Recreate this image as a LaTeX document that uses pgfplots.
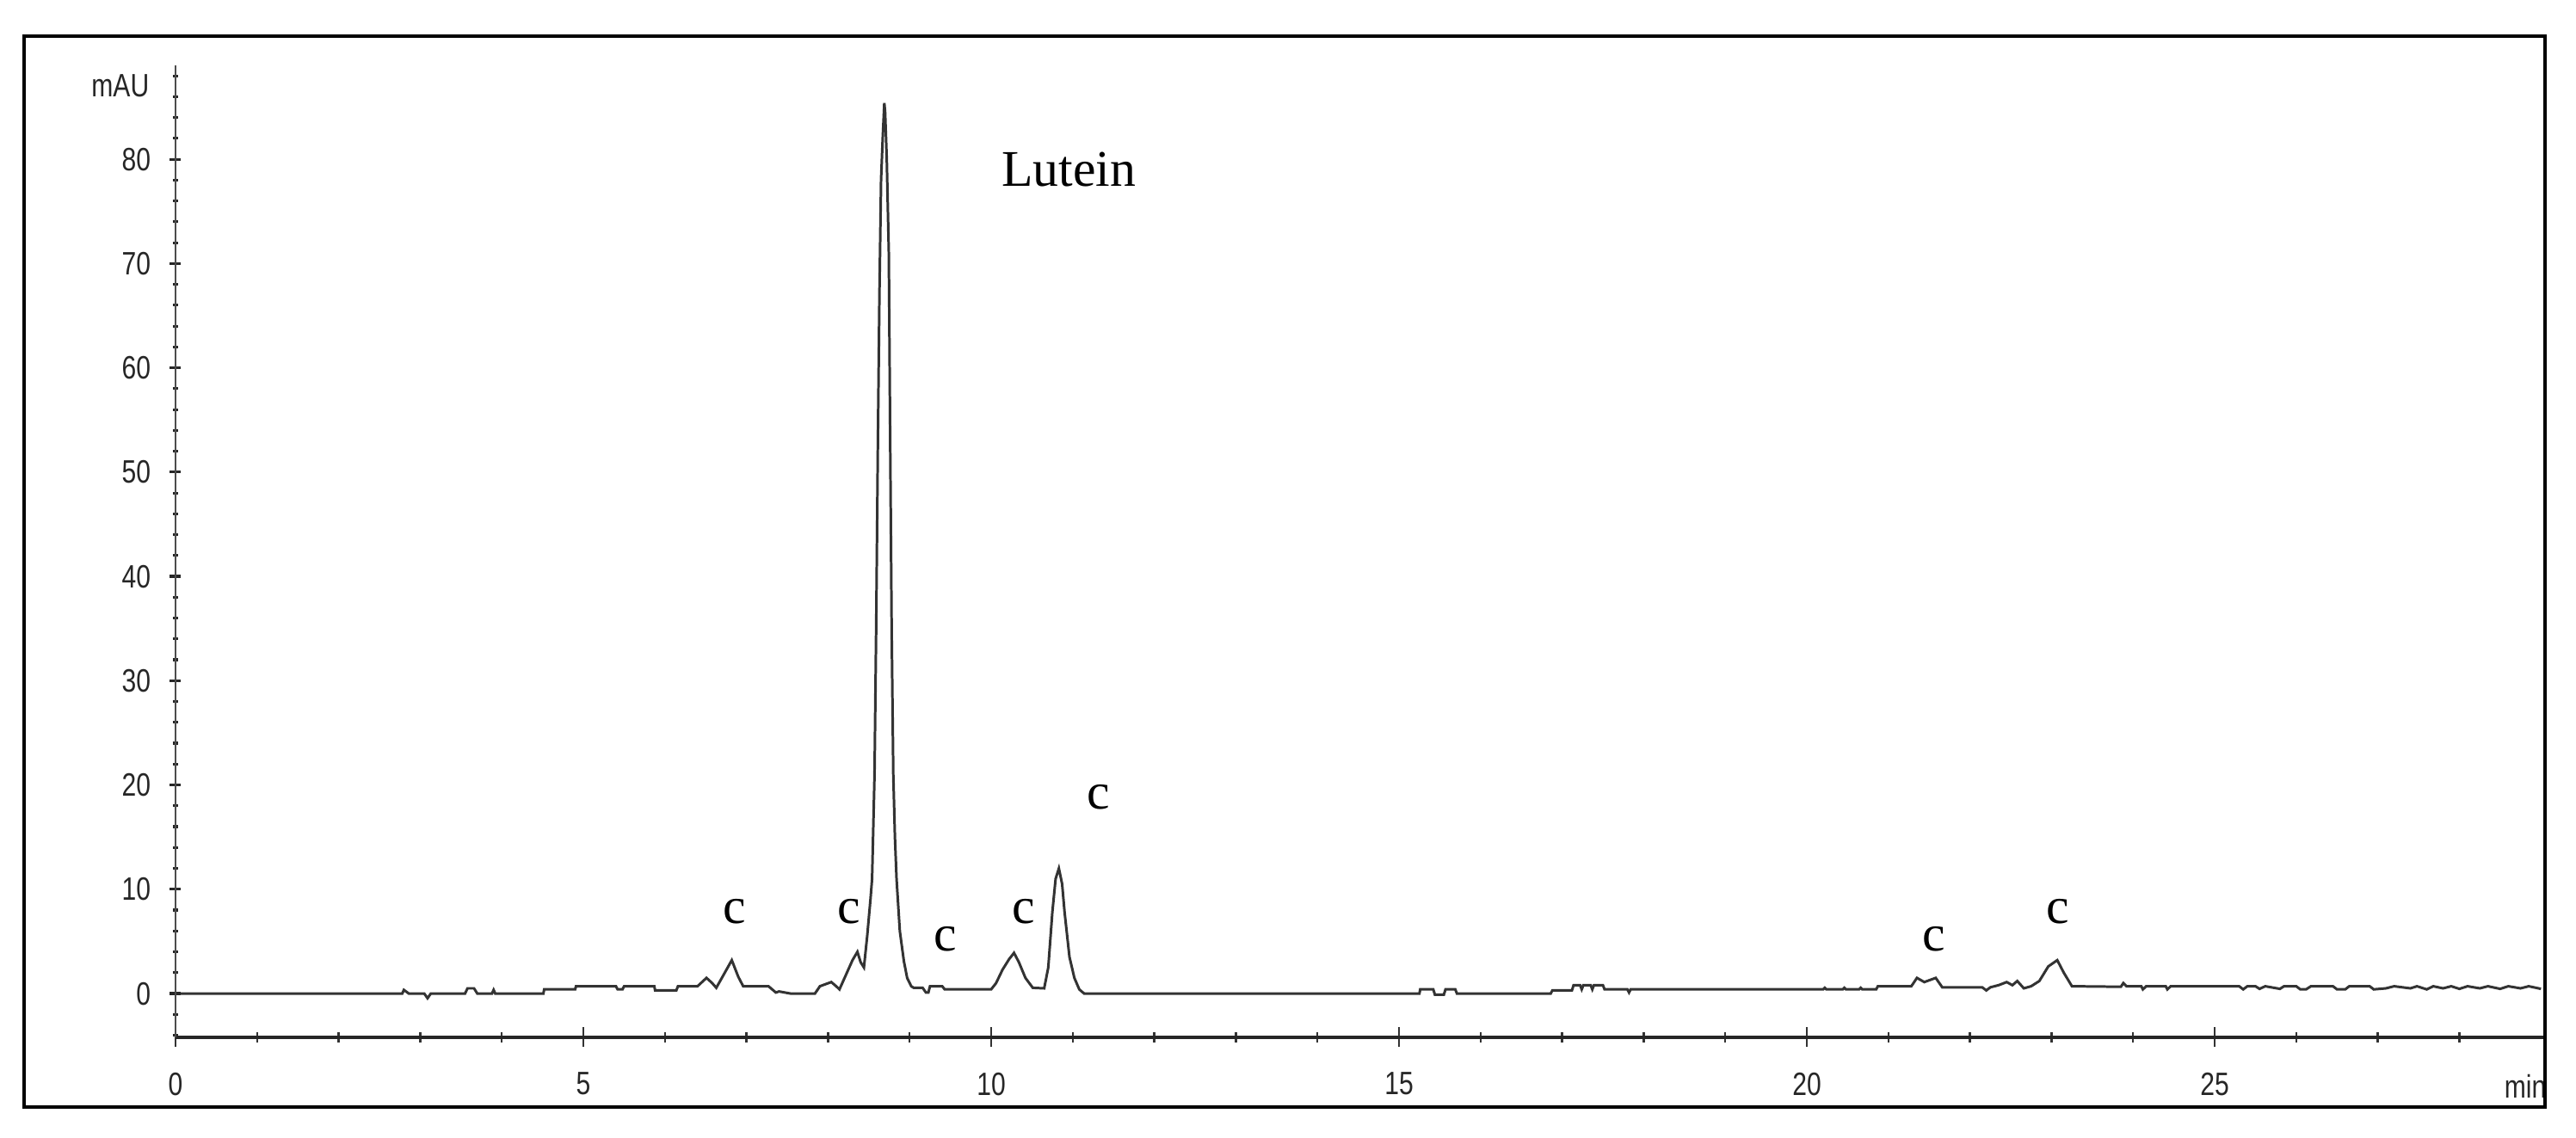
\documentclass[border=0pt]{standalone}
\usepackage{pgfplots}
\pgfplotsset{compat=1.18}
\usepackage{fontspec}
\setmainfont{Liberation Serif}
\newfontfamily\narrowsans[FakeStretch=0.8]{Liberation Sans}
\newcommand\tickfont{\narrowsans\fontsize{10.7}{12}\selectfont}
\newcommand\peakfont{\rmfamily\fontsize{17}{20}\selectfont}

% chromatogram trace, min vs mAU
\pgfplotstableread{
x y
0 0
2.78 0
2.80 0.35
2.86 0
3.05 0
3.09 -0.45
3.13 0
3.55 0
3.58 0.5
3.66 0.5
3.70 0
3.88 0
3.90 0.35
3.92 0
4.51 0
4.52 0.4
4.90 0.4
4.91 0.7
5.40 0.7
5.42 0.4
5.48 0.4
5.50 0.7
5.87 0.7
5.88 0.3
6.14 0.3
6.16 0.7
6.40 0.7
6.51 1.5
6.58 1.0
6.63 0.55
6.72 1.8
6.82 3.2
6.90 1.6
6.96 0.7
7.27 0.7
7.30 0.5
7.36 0.1
7.40 0.2
7.54 0
7.84 0
7.90 0.7
8.04 1.1
8.10 0.7
8.14 0.4
8.22 1.8
8.30 3.2
8.36 4.0
8.40 3.0
8.44 2.5
8.48 5.5
8.52 9
8.54 11
8.57 21
8.59 35
8.61 52
8.63 67
8.65 78
8.67 82
8.69 85.4
8.70 84.5
8.72 80
8.745 71
8.76 55
8.78 35
8.80 21
8.82 15
8.84 11
8.88 6
8.93 3.1
8.97 1.5
9.02 0.7
9.05 0.55
9.16 0.55
9.20 0.1
9.23 0.1
9.25 0.7
9.40 0.7
9.43 0.4
10.00 0.4
10.06 1.0
10.14 2.3
10.22 3.3
10.28 3.9
10.34 3.0
10.42 1.5
10.51 0.55
10.65 0.5
10.70 2.5
10.75 7.8
10.79 11
10.83 12.0
10.87 10.5
10.90 7.8
10.96 3.5
11.02 1.5
11.08 0.4
11.14 0
15.25 0
15.26 0.4
15.42 0.4
15.44 -0.1
15.55 -0.1
15.57 0.4
15.69 0.4
15.71 0
16.86 0
16.88 0.3
17.12 0.3
17.14 0.8
17.22 0.8
17.24 0.4
17.26 0.8
17.35 0.8
17.37 0.4
17.39 0.8
17.50 0.8
17.52 0.4
17.80 0.4
17.82 0.1
17.84 0.4
20.20 0.4
20.22 0.55
20.24 0.4
20.44 0.4
20.46 0.55
20.48 0.4
20.64 0.4
20.66 0.55
20.68 0.4
20.85 0.4
20.87 0.69
21.28 0.69
21.35 1.5
21.44 1.1
21.58 1.5
21.66 0.6
22.15 0.6
22.20 0.3
22.25 0.6
22.35 0.8
22.45 1.1
22.52 0.8
22.58 1.2
22.66 0.5
22.75 0.7
22.85 1.2
22.96 2.6
23.07 3.2
23.15 2.0
23.25 0.7
23.85 0.65
23.88 1.0
23.92 0.7
24.10 0.7
24.12 0.4
24.16 0.7
24.40 0.7
24.42 0.4
24.46 0.7
25.30 0.7
25.35 0.4
25.40 0.7
25.50 0.7
25.55 0.45
25.62 0.7
25.80 0.45
25.85 0.7
26.00 0.7
26.05 0.4
26.12 0.4
26.18 0.7
26.45 0.7
26.50 0.4
26.60 0.4
26.65 0.7
26.90 0.7
26.95 0.4
27.10 0.5
27.20 0.7
27.40 0.5
27.48 0.7
27.60 0.4
27.68 0.7
27.80 0.5
27.90 0.7
28.00 0.45
28.10 0.7
28.25 0.5
28.35 0.7
28.50 0.45
28.60 0.7
28.75 0.5
28.85 0.7
29.00 0.45
}\trace

\tikzset{peak/.style={font=\peakfont, anchor=base, inner sep=0pt}}

\pgfplotsset{
  chrom/.style={
    width=27.54cm, height=11.30cm, scale only axis,
    xmin=0, xmax=29.05, ymin=-4.2, ymax=89,
    tick align=outside,
    /pgf/number format/assume math mode=true,
    tick label style={font=\tickfont, text=black!85},
  },
}

\begin{document}
\begin{tikzpicture}
\begin{axis}[chrom,
  axis x line=bottom, axis y line=none,
  x axis line style={-, line width=1.1pt, black!85},
  xtick={0,5,...,25},
  minor xtick={1,2,3,4,6,7,8,9,11,12,13,14,16,17,18,19,21,22,23,24,26,27,28},
  major tick length=0.23cm, minor tick length=0.12cm,
  x tick style={line width=0.7pt, black!80},
  xticklabel style={yshift=-0.17cm},
  clip=false,
]
\addplot[black!80, line width=0.85pt] table[x=x, y=y] {\trace};

\node[font=\peakfont, anchor=base west] at (axis cs:10.0,77.4) {Lutein};
\node[peak] at (axis cs:6.85,6.76) {c};
\node[peak] at (axis cs:8.26,6.76) {c};
\node[peak] at (axis cs:9.44,4.1) {c};
\node[peak] at (axis cs:10.40,6.76) {c};
\node[peak] at (axis cs:11.32,17.7) {c};
\node[peak] at (axis cs:21.56,4.1) {c};
\node[peak] at (axis cs:23.08,6.7) {c};
\node[font=\tickfont, text=black!85, anchor=base west, inner sep=0pt] at (rel axis cs:0.9826,-0.0628) {min};

\draw[line width=1.3pt, black] (rel axis cs:-0.0639,-0.0717) rectangle (rel axis cs:1.0,1.0301);
\coordinate (bl) at (rel axis cs:-0.07407,-0.10354);
\coordinate (tr) at (rel axis cs:1.01307,1.06726);
\end{axis}

\begin{axis}[chrom,
  axis x line=none, axis y line=left,
  y axis line style={-, line width=0.8pt, black!70},
  ytick={0,10,...,80},
  minor ytick={-4,-2,2,4,6,8,12,14,16,18,22,24,26,28,32,34,36,38,42,44,46,48,52,54,56,58,62,64,66,68,72,74,76,78,82,84,86,88},
  major tick length=0.13cm, minor tick length=0.06cm,
  y tick style={line width=0.9pt, black!85},
  yticklabel style={xshift=-0.1cm},
  clip=false,
]
\node[font=\tickfont, text=black!85, anchor=base east, inner sep=0pt] at ([xshift=-0.30cm]rel axis cs:0,0.968) {mAU};
\end{axis}
\pgfresetboundingbox
\path (bl) rectangle (tr);
\end{tikzpicture}
\end{document}
